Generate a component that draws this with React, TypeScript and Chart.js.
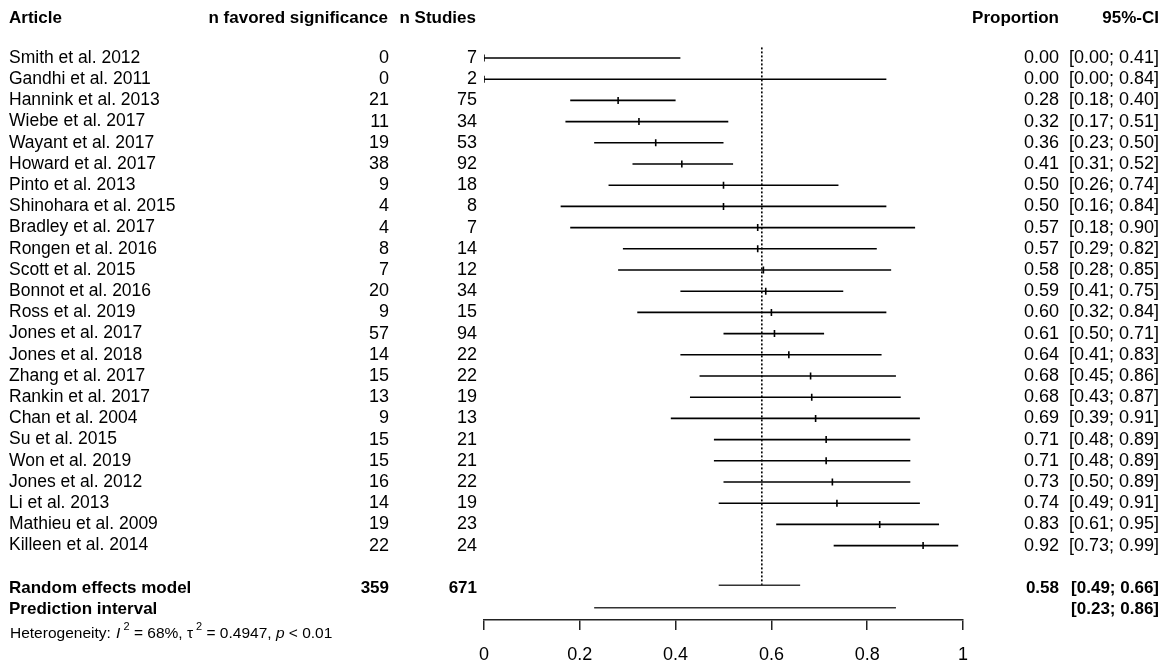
import React, { useEffect, useRef } from "react";
import { Chart, registerables } from "chart.js";

Chart.register(...registerables);

const articles = [
  "Smith et al. 2012", "Gandhi et al. 2011", "Hannink et al. 2013", "Wiebe et al. 2017",
  "Wayant et al. 2017", "Howard et al. 2017", "Pinto et al. 2013", "Shinohara et al. 2015",
  "Bradley et al. 2017", "Rongen et al. 2016", "Scott et al. 2015", "Bonnot et al. 2016",
  "Ross et al. 2019", "Jones et al. 2017", "Jones et al. 2018", "Zhang et al. 2017",
  "Rankin et al. 2017", "Chan et al. 2004", "Su et al. 2015", "Won et al. 2019",
  "Jones et al. 2012", "Li et al. 2013", "Mathieu et al. 2009", "Killeen et al. 2014",
];
const nFavored = [0, 0, 21, 11, 19, 38, 9, 4, 4, 8, 7, 20, 9, 57, 14, 15, 13, 9, 15, 15, 16, 14, 19, 22];
const nStudies = [7, 2, 75, 34, 53, 92, 18, 8, 7, 14, 12, 34, 15, 94, 22, 22, 19, 13, 21, 21, 22, 19, 23, 24];
const proportion = [0, 0, 0.28, 0.3235, 0.3585, 0.413, 0.5, 0.5, 0.5714, 0.5714, 0.5833, 0.5882, 0.6, 0.6064, 0.6364, 0.6818, 0.6842, 0.6923, 0.7143, 0.7143, 0.7273, 0.7368, 0.8261, 0.9167];
const ciLower = [0.0, 0.0, 0.18, 0.17, 0.23, 0.31, 0.26, 0.16, 0.18, 0.29, 0.28, 0.41, 0.32, 0.5, 0.41, 0.45, 0.43, 0.39, 0.48, 0.48, 0.5, 0.49, 0.61, 0.73];
const ciUpper = [0.41, 0.84, 0.4, 0.51, 0.5, 0.52, 0.74, 0.84, 0.9, 0.82, 0.85, 0.75, 0.84, 0.71, 0.83, 0.86, 0.87, 0.91, 0.89, 0.89, 0.89, 0.91, 0.95, 0.99];

const pooledEvents = 359;
const pooledTotal = 671;
const pooledEstimate = 0.58;
const pooledCI = [0.49, 0.66];
const predictionCI = [0.23, 0.86];
const xTicks = [0, 0.2, 0.4, 0.6, 0.8, 1];

const ROW_RANDOM_LINE = 24.87;
const ROW_RANDOM_TEXT = 25.03;
const ROW_PRED_LINE = 25.93;
const ROW_PRED_TEXT = 25.99;
const ROW_HEADER = -1.87;
const ROW_HET = 27.17;

const FONT = '"Liberation Sans", Arial, sans-serif';
const NAME = 17.5;
const REG = 18;
const BOLD = 17;
const f2 = (v: number) => v.toFixed(2);

// keep row 0 at 58px and 21.2px per row whatever the chart area turns out to be
const rowPlugin = {
  id: "rowFit",
  afterLayout(chart: any) {
    const y = chart.scales.y;
    const a = chart.chartArea;
    y.min = (a.top - 58) / 21.2;
    y.max = (a.bottom - 58) / 21.2;
    y.configure();
  },
};

const textPlugin = {
  id: "forestText",
  afterDraw(chart: any) {
    const ctx = chart.ctx as CanvasRenderingContext2D;
    const y = chart.scales.y;
    ctx.save();
    ctx.fillStyle = "#000";
    ctx.textBaseline = "middle";

    const put = (t: string, x: number, row: number, align: CanvasTextAlign, bold = false, size = REG) => {
      ctx.font = bold ? `bold ${BOLD}px ${FONT}` : `${size}px ${FONT}`;
      ctx.textAlign = align;
      ctx.fillText(t, x, y.getPixelForValue(row));
    };

    put("Article", 9, ROW_HEADER, "left", true);
    put("n favored significance", 388, ROW_HEADER, "right", true);
    put("n Studies", 476, ROW_HEADER, "right", true);
    put("Proportion", 1059, ROW_HEADER, "right", true);
    put("95%-CI", 1159, ROW_HEADER, "right", true);

    articles.forEach((a, i) => {
      put(a, 9, i, "left", false, NAME);
      put(String(nFavored[i]), 389, i, "right");
      put(String(nStudies[i]), 477, i, "right");
      put(f2(proportion[i]), 1059, i, "right");
      put(`[${f2(ciLower[i])}; ${f2(ciUpper[i])}]`, 1159, i, "right");
    });

    put("Random effects model", 9, ROW_RANDOM_TEXT, "left", true);
    put(String(pooledEvents), 389, ROW_RANDOM_TEXT, "right", true);
    put(String(pooledTotal), 477, ROW_RANDOM_TEXT, "right", true);
    put(f2(pooledEstimate), 1059, ROW_RANDOM_TEXT, "right", true);
    put(`[${f2(pooledCI[0])}; ${f2(pooledCI[1])}]`, 1159, ROW_RANDOM_TEXT, "right", true);
    put("Prediction interval", 9, ROW_PRED_TEXT, "left", true);
    put(`[${f2(predictionCI[0])}; ${f2(predictionCI[1])}]`, 1159, ROW_PRED_TEXT, "right", true);

    const hy = y.getPixelForValue(ROW_HET);
    let hx = 10;
    ctx.textAlign = "left";
    const seg = (t: string, style: string, size: number, dy = 0, gap = 0) => {
      ctx.font = `${style}${size}px ${FONT}`;
      ctx.fillText(t, hx, hy + dy);
      hx += ctx.measureText(t).width + gap;
    };
    seg("Heterogeneity: ", "", 15.5, 0, 1);
    seg("I", "italic ", 15.5);
    seg(" 2", "", 11, -7);
    seg(" = 68%, ", "", 15.5);
    seg("\u03c4", "", 15.5);
    seg(" 2", "", 11, -7);
    seg(" = 0.4947, ", "", 15.5);
    seg("p", "italic ", 15.5);
    seg(" < 0.01", "", 15.5);
    ctx.restore();
  },
};

export default function App() {
  const ref = useRef<HTMLCanvasElement | null>(null);
  useEffect(() => {
    if (!ref.current) return;
    const lineColor = "#000";
    const datasets: any[] = [];
    articles.forEach((_, i) => {
      datasets.push({
        data: [{ x: ciLower[i], y: i }, { x: ciUpper[i], y: i }],
        showLine: true,
        borderColor: lineColor,
        borderWidth: 1.6,
        pointRadius: 0,
      });
    });
    datasets.push({
      data: [{ x: pooledCI[0], y: ROW_RANDOM_LINE }, { x: pooledCI[1], y: ROW_RANDOM_LINE }],
      showLine: true,
      borderColor: "#333",
      borderWidth: 1.6,
      pointRadius: 0,
    });
    datasets.push({
      data: [{ x: predictionCI[0], y: ROW_PRED_LINE }, { x: predictionCI[1], y: ROW_PRED_LINE }],
      showLine: true,
      borderColor: "#333",
      borderWidth: 1.6,
      pointRadius: 0,
    });
    datasets.push({
      data: [{ x: pooledEstimate, y: -0.5 }, { x: pooledEstimate, y: ROW_RANDOM_LINE }],
      showLine: true,
      borderColor: "#000",
      borderWidth: 1.6,
      borderDash: [2, 2],
      pointRadius: 0,
    });
    datasets.push({
      data: proportion.map((p, i) => ({ x: p, y: i })),
      showLine: false,
      pointStyle: "line",
      rotation: 90,
      pointRadius: 3.5,
      borderColor: lineColor,
      borderWidth: 1.6,
    });

    const chart = new Chart(ref.current, {
      type: "scatter",
      data: { datasets },
      options: {
        animation: false,
        responsive: false,
        devicePixelRatio: 1,
        layout: { padding: { left: 484, right: 204, top: 0, bottom: 1 } },
        plugins: { legend: { display: false }, tooltip: { enabled: false } },
        scales: {
          y: {
            type: "linear",
            reverse: true,
            min: -2.736,
            max: 26.51,
            display: false,
          },
          x: {
            type: "linear",
            min: 0,
            max: 1,
            afterBuildTicks: (s: any) => {
              s.ticks = xTicks.map((v) => ({ value: v }));
            },
            afterFit: (s: any) => {
              s.height = 41;
            },
            ticks: {
              color: "#000",
              padding: 14,
              font: { family: FONT, size: 18 },
              callback: (v: any) => String(Number(v)),
              maxRotation: 0,
            },
            grid: {
              drawOnChartArea: false,
              drawTicks: true,
              tickLength: 10,
              color: "#222",
              lineWidth: 1.5,
            },
            border: { display: true, color: "#222", width: 1.5 },
          },
        },
      },
      plugins: [rowPlugin, textPlugin],
    });
    return () => chart.destroy();
  }, []);

  return (
    <div style={{ position: "fixed", left: 0, top: 0, width: 1167, height: 662, background: "#fff" }}>
      <canvas ref={ref} width={1167} height={662} style={{ width: 1167, height: 662 }} />
    </div>
  );
}
